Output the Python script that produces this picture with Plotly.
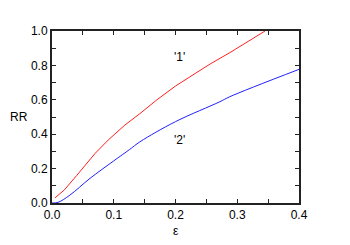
import plotly.graph_objects as go

eps1 = [0.005, 0.02, 0.04, 0.06, 0.07, 0.091, 0.118, 0.1425, 0.1695, 0.2, 0.256, 0.288, 0.345]
rr1 = [0.03, 0.076, 0.16, 0.245, 0.289, 0.366, 0.453, 0.52, 0.599, 0.68, 0.808, 0.874, 1.0]

eps2 = [0.0, 0.01, 0.029, 0.0615, 0.1, 0.126, 0.1425, 0.2, 0.272, 0.288, 0.4]
rr2 = [0.0, 0.004, 0.046, 0.143, 0.245, 0.312, 0.356, 0.473, 0.589, 0.618, 0.777]

xticks = [0.0, 0.05, 0.1, 0.15, 0.2, 0.25, 0.3, 0.35, 0.4]
xtext = ["0.0", "", "0.1", "", "0.2", "", "0.3", "", "0.4"]
yticks = [0.0, 0.1, 0.2, 0.3, 0.4, 0.5, 0.6, 0.7, 0.8, 0.9, 1.0]
ytext = ["0.0", "", "0.2", "", "0.4", "", "0.6", "", "0.8", "", "1.0"]

font = dict(family="Liberation Sans, Arial, sans-serif", size=12, color="black")

fig = go.Figure()
fig.add_trace(go.Scatter(x=eps1, y=rr1, mode="lines", line=dict(color="#ff2020", width=1), showlegend=False))
fig.add_trace(go.Scatter(x=eps2, y=rr2, mode="lines", line=dict(color="#2020ff", width=1), line_shape="spline", showlegend=False))

axis_common = dict(showgrid=False, zeroline=False, showline=True, linecolor="#222", linewidth=2,
                   ticks="inside", ticklen=4, tickwidth=1, tickcolor="#222", mirror="ticks",
                   tickfont=font)
fig.update_xaxes(range=[0, 0.4], tickvals=xticks, ticktext=xtext, ticklabelstandoff=0, **axis_common)
fig.update_yaxes(range=[0, 1.0], tickvals=yticks, ticktext=ytext, **axis_common)

fig.add_annotation(x=0.207, y=0.85, text="'1'", showarrow=False, font=font)
fig.add_annotation(x=0.207, y=0.366, text="'2'", showarrow=False, font=font)
fig.add_annotation(xref="paper", yref="paper", x=-0.09, y=0.5, text="RR", showarrow=False, font=font, xanchor="right")
fig.add_annotation(xref="paper", yref="paper", x=0.5, y=-0.11, text="ε", showarrow=False, font=font, yanchor="top")

fig.update_layout(width=342, height=237, margin=dict(l=44, r=51, t=23, b=42),
                  plot_bgcolor="white", paper_bgcolor="white", font=font)
fig.write_html("out.html")
